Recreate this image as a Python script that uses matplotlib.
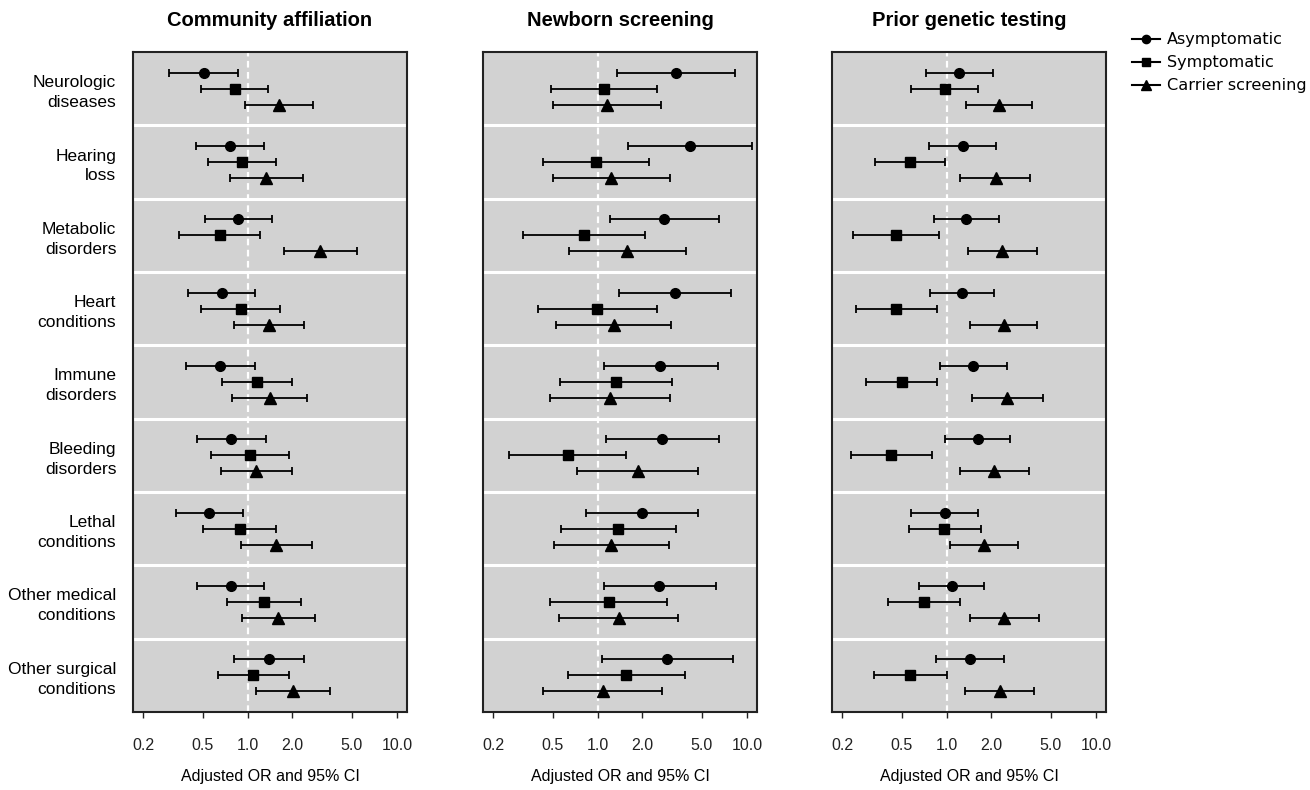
import numpy as np
import matplotlib
matplotlib.use("Agg")
import matplotlib.pyplot as plt
from matplotlib.lines import Line2D

categories = ["Neurologic\ndiseases", "Hearing\nloss", "Metabolic\ndisorders",
              "Heart\nconditions", "Immune\ndisorders", "Bleeding\ndisorders",
              "Lethal\nconditions", "Other medical\nconditions", "Other surgical\nconditions"]
panel_titles = ["Community affiliation", "Newborn screening", "Prior genetic testing"]
series_names = ["Asymptomatic", "Symptomatic", "Carrier screening"]
tick_values = [0.2, 0.5, 1.0, 2.0, 5.0, 10.0]
tick_labels = ["0.2", "0.5", "1.0", "2.0", "5.0", "10.0"]

# Community affiliation
comm_asym_or = [0.51, 0.76, 0.86, 0.67, 0.65, 0.78, 0.55, 0.77, 1.40]
comm_asym_lo = [0.30, 0.45, 0.52, 0.40, 0.39, 0.46, 0.33, 0.46, 0.81]
comm_asym_hi = [0.87, 1.29, 1.45, 1.13, 1.12, 1.32, 0.93, 1.28, 2.39]
comm_sym_or = [0.82, 0.92, 0.65, 0.90, 1.15, 1.04, 0.89, 1.28, 1.09]
comm_sym_lo = [0.49, 0.54, 0.35, 0.49, 0.67, 0.57, 0.50, 0.73, 0.63]
comm_sym_hi = [1.38, 1.54, 1.21, 1.65, 2.00, 1.89, 1.55, 2.28, 1.91]
comm_car_or = [1.62, 1.33, 3.07, 1.39, 1.41, 1.14, 1.56, 1.61, 2.02]
comm_car_lo = [0.96, 0.76, 1.76, 0.81, 0.79, 0.66, 0.91, 0.92, 1.14]
comm_car_hi = [2.74, 2.36, 5.38, 2.40, 2.51, 2.00, 2.71, 2.81, 3.59]

# Newborn screening
nbs_asym_or = [3.34, 4.15, 2.80, 3.29, 2.64, 2.71, 1.98, 2.60, 2.93]
nbs_asym_lo = [1.35, 1.59, 1.21, 1.39, 1.10, 1.14, 0.84, 1.10, 1.07]
nbs_asym_hi = [8.36, 10.8, 6.50, 7.78, 6.41, 6.47, 4.69, 6.21, 8.02]
nbs_sym_or = [1.11, 0.975, 0.81, 0.995, 1.32, 0.63, 1.37, 1.19, 1.56]
nbs_sym_lo = [0.49, 0.43, 0.315, 0.40, 0.56, 0.256, 0.57, 0.48, 0.63]
nbs_sym_hi = [2.51, 2.20, 2.07, 2.49, 3.13, 1.55, 3.36, 2.94, 3.84]
nbs_car_or = [1.16, 1.23, 1.58, 1.28, 1.22, 1.86, 1.24, 1.39, 1.08]
nbs_car_lo = [0.50, 0.50, 0.64, 0.53, 0.48, 0.73, 0.51, 0.555, 0.43]
nbs_car_hi = [2.68, 3.05, 3.94, 3.11, 3.05, 4.74, 3.02, 3.48, 2.71]

# Prior genetic testing
pgt_asym_or = [1.22, 1.28, 1.36, 1.26, 1.51, 1.62, 0.97, 1.08, 1.43]
pgt_asym_lo = [0.73, 0.76, 0.83, 0.77, 0.91, 0.98, 0.58, 0.65, 0.85]
pgt_asym_hi = [2.05, 2.13, 2.25, 2.08, 2.54, 2.68, 1.63, 1.77, 2.42]
pgt_sym_or = [0.975, 0.567, 0.457, 0.462, 0.50, 0.424, 0.965, 0.706, 0.569]
pgt_sym_lo = [0.58, 0.333, 0.235, 0.247, 0.29, 0.228, 0.558, 0.406, 0.326]
pgt_sym_hi = [1.63, 0.97, 0.885, 0.867, 0.862, 0.794, 1.69, 1.23, 1.00]
pgt_car_or = [2.26, 2.13, 2.37, 2.41, 2.56, 2.09, 1.78, 2.44, 2.27]
pgt_car_lo = [1.35, 1.24, 1.40, 1.43, 1.48, 1.23, 1.06, 1.44, 1.32]
pgt_car_hi = [3.74, 3.65, 4.04, 4.06, 4.41, 3.58, 3.02, 4.15, 3.88]

panels = [
    [(comm_asym_or, comm_asym_lo, comm_asym_hi), (comm_sym_or, comm_sym_lo, comm_sym_hi),
     (comm_car_or, comm_car_lo, comm_car_hi)],
    [(nbs_asym_or, nbs_asym_lo, nbs_asym_hi), (nbs_sym_or, nbs_sym_lo, nbs_sym_hi),
     (nbs_car_or, nbs_car_lo, nbs_car_hi)],
    [(pgt_asym_or, pgt_asym_lo, pgt_asym_hi), (pgt_sym_or, pgt_sym_lo, pgt_sym_hi),
     (pgt_car_or, pgt_car_lo, pgt_car_hi)],
]

markers = ["o", "s", "^"]
msizes = [7, 6.5, 8.5]
offsets = [-0.22, 0.0, 0.22]

plt.rcParams['font.family'] = ['Liberation Sans', 'DejaVu Sans']

fig = plt.figure(figsize=(13.1, 7.9), dpi=100)
W, H = 1310, 790
lefts = [133, 483, 832]
pw = 274
top, bottom = 52, 712

span = 0.04 * np.log10(10 / 0.2)
xlo = 10 ** (np.log10(0.2) - span)
xhi = 10 ** (1 + span)

for p, ax_left in enumerate(lefts):
    ax = fig.add_axes([ax_left / W, 1 - bottom / H, pw / W, (bottom - top) / H])
    ax.set_facecolor('#d2d2d2')
    ax.set_xscale('log')
    ax.set_xlim(xlo, xhi)
    ax.set_ylim(len(categories) - 0.5, -0.5)
    for i in range(len(categories) - 1):
        ax.axhline(i + 0.5, color='white', lw=2.2, zorder=1)
    ax.axvline(1.0, color='white', lw=1.6, ls=(0, (3, 2)), zorder=1)
    for s, (orv, lov, hiv) in enumerate(panels[p]):
        orv = np.array(orv); lov = np.array(lov); hiv = np.array(hiv)
        y = np.arange(len(categories)) + offsets[s]
        ax.errorbar(orv, y, xerr=[orv - lov, hiv - orv], fmt=markers[s], color='black',
                    ms=msizes[s], elinewidth=1.3, capsize=3, capthick=1.3, zorder=3)
    ax.set_xticks(tick_values)
    ax.set_xticklabels(tick_labels)
    ax.minorticks_off()
    ax.tick_params(axis='x', direction='out', length=4, width=1, pad=15, labelsize=11.5,
                   colors='#222222')
    if p == 0:
        ax.set_yticks(np.arange(len(categories)))
        ax.set_yticklabels(categories, fontsize=12.5, linespacing=1.4)
        ax.tick_params(axis='y', length=0, pad=12)
        for lab in ax.get_yticklabels():
            lab.set_horizontalalignment('right')
    else:
        ax.set_yticks([])
    for sp in ax.spines.values():
        sp.set_linewidth(1.5)
        sp.set_color('#222222')
    ax.set_xlabel("Adjusted OR and 95% CI", fontsize=11.5, labelpad=11)
    ax.set_title(panel_titles[p], fontsize=14.5, fontweight='bold', pad=19)

handles = [Line2D([0], [0], color='black', lw=1.5, marker=markers[s], ms=msizes[s] * 0.85)
           for s in range(3)]
fig.legend(handles, series_names, loc='upper left', bbox_to_anchor=(1121 / W, 1 - 21 / H),
           frameon=False, handlelength=1.75, handletextpad=0.4, labelspacing=0.5,
           borderaxespad=0.3, prop={'family': 'DejaVu Sans', 'size': 11.6})

fig.savefig("out.png", dpi=100)
